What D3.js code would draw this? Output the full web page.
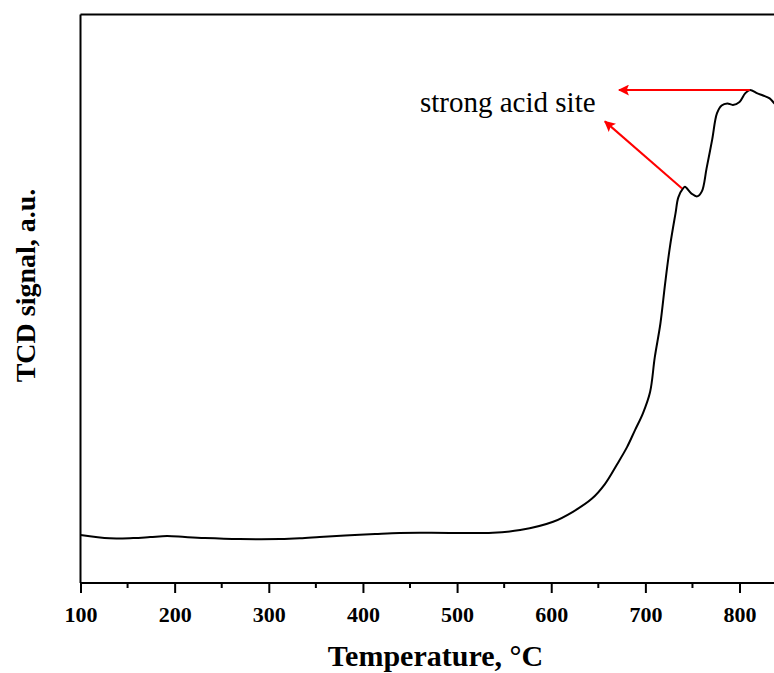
<!DOCTYPE html>
<html>
<head>
<meta charset="utf-8">
<script src="https://cdn.jsdelivr.net/npm/d3@7"></script>
<style>
  html, body { margin: 0; padding: 0; background: #fff; }
  svg { display: block; }
</style>
</head>
<body>
<svg id="chart" width="774" height="673"></svg>
<script>
// TPD profile: temperature (°C) and TCD signal (a.u.)
const temperature = [100, 131, 156, 174, 192, 211, 232, 269, 312, 333, 354, 381, 413, 439, 471, 538,
  567, 602, 623, 643, 657, 670, 680.5, 689, 697.5, 705, 710, 716, 721, 726, 732, 735, 740, 742, 749, 755, 760,
  765, 771, 776, 781, 787, 793, 800, 806, 811, 819, 825, 832, 837, 845, 852];
const signal = [8.44, 7.86, 7.91, 8.08, 8.26, 8.08, 7.91, 7.73, 7.73, 7.86, 8.08, 8.35, 8.61, 8.79, 8.82, 8.84,
  9.31, 10.77, 12.53, 14.8, 17.4, 20.9, 23.9, 26.9, 29.9, 33.6, 39.72, 45.69, 52.72, 59.05, 65.03, 67.84, 69.40, 69.68, 68.5, 68.01, 68.89,
  72.93, 78.03, 82.6, 84.0, 84.36, 84.1, 84.62, 86.12, 86.73, 86.12, 85.76, 85.24, 84.36, 82.8, 81.5];

const xTicks = [100, 200, 300, 400, 500, 600, 700, 800];
const xMinorTicks = [150, 250, 350, 450, 550, 650, 750, 850];
const xDomain = [100, 850];
const yDomain = [0, 100];

const annotationText = "strong acid site";
const annotationLabel = [460.6, 82.8];        // label start (T, signal)
const annotationArrows = [
  [[811, 86.7], [672, 86.7]],                 // from the upper peak
  [[739, 69.4], [657, 81.2]]                  // from the shoulder
];

const svg = d3.select("#chart");
const plotLeft = 80.5, plotTop = 14.5, plotBottom = 583, plotRight = 786.6;

const x = d3.scaleLinear().domain(xDomain).range([plotLeft, plotRight]);
const y = d3.scaleLinear().domain(yDomain).range([plotBottom, plotTop]);

const serif = "'Times New Roman', 'Liberation Serif', Times, serif";

svg.append("defs").append("marker")
  .attr("id", "arrowhead")
  .attr("viewBox", "0 0 10 10")
  .attr("refX", 9).attr("refY", 5)
  .attr("markerWidth", 8).attr("markerHeight", 5.5)
  .attr("markerUnits", "strokeWidth")
  .attr("orient", "auto")
  .append("path")
  .attr("d", "M0,0 L10,5 L0,10 L2,5 Z")
  .attr("fill", "#ff0000");

// Curve
const line = d3.line()
  .x((d, i) => x(temperature[i]))
  .y(d => y(d))
  .curve(d3.curveCatmullRom.alpha(0.5));

svg.append("path")
  .datum(signal)
  .attr("d", line)
  .attr("fill", "none")
  .attr("stroke", "#000")
  .attr("stroke-width", 2)
  .attr("stroke-linejoin", "round");

// Frame: top and left edges
svg.append("line")
  .attr("x1", plotLeft).attr("x2", plotRight + 10)
  .attr("y1", plotTop).attr("y2", plotTop)
  .attr("stroke", "#000").attr("stroke-width", 2);
svg.append("line")
  .attr("x1", plotLeft).attr("x2", plotLeft)
  .attr("y1", plotTop).attr("y2", plotBottom)
  .attr("stroke", "#000").attr("stroke-width", 2);

// Bottom axis with major and minor ticks
const xAxis = d3.axisBottom(x)
  .tickValues(xTicks)
  .tickSize(10)
  .tickPadding(13)
  .tickFormat(d3.format("d"));
const gx = svg.append("g")
  .attr("transform", `translate(0,${plotBottom})`)
  .call(xAxis);
gx.select(".domain").attr("stroke-width", 2).attr("d", `M${plotLeft},0H${plotRight + 10}`);
gx.selectAll(".tick line").attr("stroke-width", 2);
gx.selectAll(".tick text")
  .attr("font-family", serif)
  .attr("font-weight", "bold")
  .attr("font-size", 22)
  .attr("fill", "#000");

svg.append("g")
  .attr("transform", `translate(0,${plotBottom})`)
  .selectAll("line")
  .data(xMinorTicks)
  .join("line")
  .attr("x1", d => x(d)).attr("x2", d => x(d))
  .attr("y1", 0).attr("y2", 5)
  .attr("stroke", "#000").attr("stroke-width", 2);

// Axis titles
svg.append("text")
  .attr("x", 435.5).attr("y", 666)
  .attr("text-anchor", "middle")
  .attr("font-family", serif)
  .attr("font-weight", "bold")
  .attr("font-size", 30)
  .text("Temperature, °C");

svg.append("text")
  .attr("transform", "translate(35,285.5) rotate(-90)")
  .attr("text-anchor", "middle")
  .attr("font-family", serif)
  .attr("font-weight", "bold")
  .attr("font-size", 28)
  .text("TCD signal, a.u.");

// Annotation
svg.append("text")
  .attr("x", x(annotationLabel[0])).attr("y", y(annotationLabel[1]))
  .attr("font-family", serif)
  .attr("font-size", 29)
  .attr("fill", "#000")
  .text(annotationText);

svg.append("g")
  .selectAll("line")
  .data(annotationArrows)
  .join("line")
  .attr("x1", d => x(d[0][0])).attr("y1", d => y(d[0][1]))
  .attr("x2", d => x(d[1][0])).attr("y2", d => y(d[1][1]))
  .attr("stroke", "#ff0000")
  .attr("stroke-width", 2)
  .attr("marker-end", "url(#arrowhead)");
</script>
</body>
</html>
